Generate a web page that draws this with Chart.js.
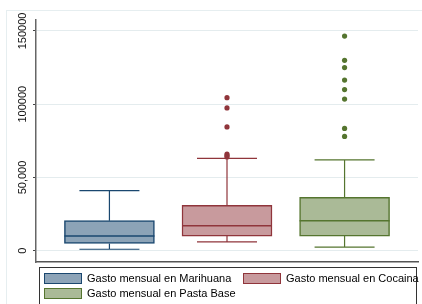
<!DOCTYPE html>
<html lang="es">
<head>
<meta charset="UTF-8">
<title>Gasto mensual</title>
<script src="https://cdn.jsdelivr.net/npm/chart.js"></script>
<style>
  html, body { margin: 0; padding: 0; background: #fff; overflow: hidden; }
  #contenedor { position: relative; width: 422px; height: 304px; overflow: hidden; }
  #grafico { position: absolute; left: 0; top: 0; }
  /* leyenda estilo Stata, recuadro con borde */
  #leyenda {
    position: absolute; left: 39px; top: 267px; width: 378px; height: 60px;
    box-sizing: border-box; border: 1px solid #333; background: #fff;
    padding: 5px 0 0 4px;
    display: grid; grid-template-columns: 199px auto; row-gap: 4px; align-content: start;
  }
  .item { display: flex; align-items: center; height: 11px; }
  .muestra { width: 38px; height: 11px; box-sizing: border-box; border: 1px solid; }
  .texto { margin-left: 5px; font: 11px "Liberation Sans", Arial, sans-serif; line-height: 11px; color: #000; white-space: nowrap; }
</style>
</head>
<body>
<div id="contenedor">
  <canvas id="grafico" width="422" height="304"></canvas>
  <div id="leyenda"></div>
</div>

<script>
  // Datos
  const categorias = ['Gasto mensual en Marihuana', 'Gasto mensual en Cocaina', 'Gasto mensual en Pasta Base'];
  const bigoteBajo = [1000, 6000, 2500];
  const cuartil1 = [5000, 10000, 10000];
  const mediana = [10000, 17000, 20500];
  const cuartil3 = [20500, 31000, 36500];
  const bigoteAlto = [41000, 63000, 62000];
  const atipicosMarihuana = [];
  const atipicosCocaina = [104500, 97500, 84500, 66000, 65000, 64000];
  const atipicosPastaBase = [146500, 130000, 125000, 116500, 110000, 103500, 83500, 78000];
  const ticksY = [0, 50000, 100000, 150000];
  const etiquetasY = ['0', '50,000', '100000', '150000'];

  // colores Stata s2color (navy, maroon, forest_green)
  const colores = ['#1a476f', '#90353b', '#55752f'];
  const rellenos = ['#8ca3b7', '#c89a9d', '#aaba97'];
  const fuente = '"Liberation Sans", Arial, sans-serif';

  const datasets = [];
  categorias.forEach(function (nombre, i) {
    datasets.push({
      type: 'bar',
      label: nombre,
      data: [{ x: i + 1, y: [cuartil1[i], cuartil3[i]] }],
      backgroundColor: rellenos[i],
      borderColor: colores[i],
      borderWidth: 1.5,
      borderSkipped: false,
      barThickness: 90,
      grouped: false
    });
  });
  [atipicosMarihuana, atipicosCocaina, atipicosPastaBase].forEach(function (lista, i) {
    datasets.push({
      type: 'scatter',
      label: 'atipicos ' + categorias[i],
      data: lista.map(function (v) { return { x: i + 1, y: v }; }),
      backgroundColor: colores[i],
      borderColor: colores[i],
      borderWidth: 0,
      pointRadius: 2.6
    });
  });

  // marco claro de la region del grafico
  const marco = {
    id: 'marco',
    beforeDraw(chart) {
      const ctx = chart.ctx;
      ctx.save();
      ctx.fillStyle = '#fff';
      ctx.fillRect(0, 0, chart.width, chart.height);
      ctx.strokeStyle = '#e6eef0';
      ctx.lineWidth = 1;
      ctx.strokeRect(6.5, 10.5, chart.width + 20, chart.height + 20);
      ctx.restore();
    }
  };

  // bigotes, topes y medianas
  const bigotes = {
    id: 'bigotes',
    beforeDatasetsDraw(chart) {
      const ctx = chart.ctx, x = chart.scales.x, y = chart.scales.y;
      ctx.save();
      categorias.forEach(function (_, i) {
        const cx = x.getPixelForValue(i + 1);
        const alto = y.getPixelForValue(bigoteAlto[i]);
        const bajo = y.getPixelForValue(bigoteBajo[i]);
        ctx.strokeStyle = colores[i];
        ctx.lineWidth = 1.2;
        ctx.beginPath();
        ctx.moveTo(cx, y.getPixelForValue(cuartil3[i]));
        ctx.lineTo(cx, alto);
        ctx.moveTo(cx, y.getPixelForValue(cuartil1[i]));
        ctx.lineTo(cx, bajo);
        ctx.moveTo(cx - 30, alto);
        ctx.lineTo(cx + 30, alto);
        ctx.moveTo(cx - 30, bajo);
        ctx.lineTo(cx + 30, bajo);
        ctx.stroke();
      });
      ctx.restore();
    },
    afterDatasetsDraw(chart) {
      const ctx = chart.ctx, y = chart.scales.y;
      ctx.save();
      categorias.forEach(function (_, i) {
        const barra = chart.getDatasetMeta(i).data[0];
        const my = y.getPixelForValue(mediana[i]);
        ctx.strokeStyle = colores[i];
        ctx.lineWidth = 1.5;
        ctx.beginPath();
        ctx.moveTo(barra.x - barra.width / 2, my);
        ctx.lineTo(barra.x + barra.width / 2, my);
        ctx.stroke();
      });
      ctx.restore();
    }
  };

  // etiquetas verticales del eje y
  const etiquetasEje = {
    id: 'etiquetasEje',
    afterDraw(chart) {
      const ctx = chart.ctx, y = chart.scales.y;
      ctx.save();
      ctx.fillStyle = '#111';
      ctx.font = '11px ' + fuente;
      ctx.textAlign = 'center';
      ctx.textBaseline = 'alphabetic';
      ticksY.forEach(function (v, i) {
        ctx.save();
        ctx.translate(26, y.getPixelForValue(v));
        ctx.rotate(-Math.PI / 2);
        ctx.fillText(etiquetasY[i], 0, 0);
        ctx.restore();
      });
      ctx.restore();
    }
  };

  const myChart = new Chart(document.getElementById('grafico'), {
    type: 'bar',
    data: { datasets: datasets },
    options: {
      responsive: false,
      animation: false,
      events: [],
      layout: { padding: { left: 0, top: 20, right: 1, bottom: 42 } },
      plugins: { legend: { display: false }, tooltip: { enabled: false } },
      scales: {
        x: {
          type: 'linear',
          min: 0.3755,
          max: 3.6245,
          bounds: 'data',
          offset: false,
          ticks: { display: false },
          grid: { display: false, offset: false },
          border: { color: '#555', width: 1.5 },
          afterFit: function (s) { s.height = 0; }
        },
        y: {
          type: 'linear',
          min: -7700,
          max: 157500,
          bounds: 'data',
          afterBuildTicks: function (s) { s.ticks = ticksY.map(function (v) { return { value: v }; }); },
          ticks: { display: false },
          grid: { color: '#e4ecee', lineWidth: 1, tickLength: 3, tickColor: '#444', tickWidth: 1 },
          border: { color: '#666', width: 1.5 },
          afterFit: function (s) { s.width = 36; }
        }
      }
    },
    plugins: [marco, bigotes, etiquetasEje]
  });

  // leyenda en html a partir de las series
  const leyenda = document.getElementById('leyenda');
  categorias.forEach(function (nombre, i) {
    const item = document.createElement('div');
    item.className = 'item';
    const muestra = document.createElement('span');
    muestra.className = 'muestra';
    muestra.style.background = rellenos[i];
    muestra.style.borderColor = colores[i];
    const texto = document.createElement('span');
    texto.className = 'texto';
    texto.textContent = nombre;
    item.appendChild(muestra);
    item.appendChild(texto);
    leyenda.appendChild(item);
  });
</script>
</body>
</html>
